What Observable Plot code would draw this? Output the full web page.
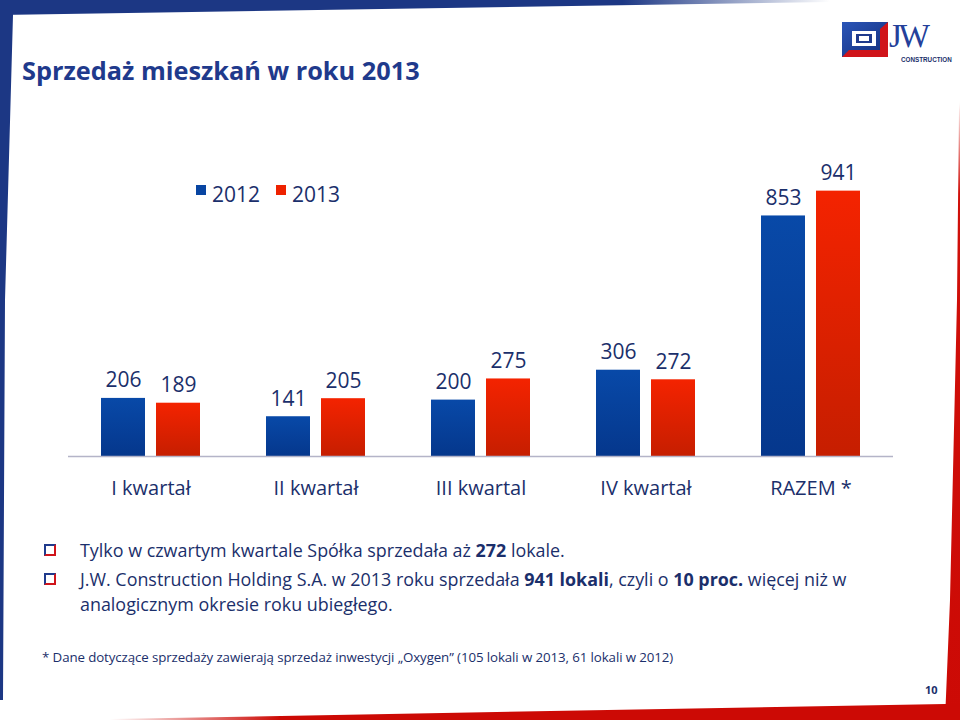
<!DOCTYPE html>
<html>
<head>
<meta charset="utf-8">
<script src="https://cdn.jsdelivr.net/npm/d3@7"></script>
<script src="https://cdn.jsdelivr.net/npm/@observablehq/plot@0.6"></script>
<style>
  html, body { margin: 0; padding: 0; background: #fff; }
  #slide { position: relative; width: 960px; height: 720px; overflow: hidden; background: #fff; font-family: "Open Sans", sans-serif; color: #1b2f6b; }
  .abs { position: absolute; }
  #title { left: 22px; top: 53px; font-size: 25.3px; font-weight: 700; color: #1f3a8c; white-space: nowrap; }
  #legend { left: 196px; top: 180px; display: flex; align-items: center; font-size: 21px; color: #1b2f6b; white-space: nowrap; }
  #legend .sw { width: 10px; height: 10px; margin-right: 6px; margin-top: -8px; }
  #legend .item { display: flex; align-items: center; margin-right: 16px; }
  #chart { left: 0; top: 140px; }
  .bullet { left: 80px; font-size: 17.9px; color: #1b2f6b; white-space: nowrap; line-height: 24.5px; }
  .box { width: 8px; height: 8px; border: 2px solid #1f3a8c; border-right-color: #d0141a; border-bottom-color: #d0141a; }
  #foot { left: 42px; top: 648px; font-size: 13.3px; color: #1b2f6b; white-space: nowrap; letter-spacing: -0.1px; }
  #page { left: 925px; top: 682px; font-size: 11px; font-weight: 700; color: #1b2f6b; }
</style>
</head>
<body>
<div id="slide">
  <svg class="abs" style="left:0;top:0" width="960" height="720">
    <defs>
      <linearGradient id="gBlue" x1="0" y1="0" x2="0" y2="1">
        <stop offset="0" stop-color="#0849a8"/>
        <stop offset="1" stop-color="#05378c"/>
      </linearGradient>
      <linearGradient id="gRed" x1="0" y1="0" x2="0" y2="1">
        <stop offset="0" stop-color="#f42300"/>
        <stop offset="1" stop-color="#c61e00"/>
      </linearGradient>
      <linearGradient id="topBand" x1="0" y1="0" x2="1" y2="0">
        <stop offset="0" stop-color="#1c3784"/>
        <stop offset="0.75" stop-color="#1c3784"/>
        <stop offset="1" stop-color="#1c3784" stop-opacity="0"/>
      </linearGradient>
      <linearGradient id="rightBand" x1="0" y1="0" x2="0" y2="1">
        <stop offset="0" stop-color="#d0100a" stop-opacity="0"/>
        <stop offset="0.15" stop-color="#d0100a"/>
        <stop offset="1" stop-color="#cc0a05"/>
      </linearGradient>
      <linearGradient id="botBand" x1="0" y1="0" x2="1" y2="0">
        <stop offset="0" stop-color="#cc0a05" stop-opacity="0"/>
        <stop offset="0.2" stop-color="#cc0a05"/>
        <stop offset="1" stop-color="#cc0a05"/>
      </linearGradient>
      <linearGradient id="logoBlue" x1="0" y1="0" x2="1" y2="1">
        <stop offset="0" stop-color="#2a55b8"/>
        <stop offset="1" stop-color="#142e7a"/>
      </linearGradient>
    </defs>
    <polygon points="0,0 830,0 830,2 0,15" fill="url(#topBand)"/>
    <polygon points="0,0 13,0 13,15 5,300 3,700 0,700" fill="#1c3784"/>
    <polygon points="960,100 960,720 945,720 950,600 957,300 959,110" fill="url(#rightBand)"/>
    <polygon points="110,720 110,719 945,704 960,703 960,720" fill="url(#botBand)"/>
    <!-- logo -->
    <g>
      <rect x="842" y="22" width="46" height="35" fill="url(#logoBlue)"/>
      <polygon points="842,57 888,57 888,22 880,29 880,50 849,50" fill="#d0141a"/>
      <rect x="852" y="31" width="24" height="15" fill="#fff"/>
      <rect x="856" y="34" width="16" height="9" fill="#1f3a8c"/>
      <rect x="859" y="36" width="10" height="5" fill="#fff"/>
      <text x="889" y="47" font-family="'Liberation Serif', 'DejaVu Serif', serif" font-size="33" fill="#24409a" letter-spacing="-3">JW</text>
      <text x="901" y="62" font-family="'Liberation Sans', sans-serif" font-size="6.3" font-weight="700" fill="#1b2f6b">CONSTRUCTION</text>
    </g>
  </svg>

  <div id="title" class="abs">Sprzedaż mieszkań w roku 2013</div>

  <div id="legend" class="abs"></div>
  <div id="chart" class="abs"></div>

  <div class="abs box" style="left:44px;top:544px"></div>
  <div class="abs box" style="left:44px;top:573px"></div>
  <div class="abs bullet" style="top:538px">Tylko w czwartym kwartale Spółka sprzedała aż <b>272</b> lokale.</div>
  <div class="abs bullet" style="top:567px">J.W. Construction Holding S.A. w 2013 roku sprzedała <b>941 lokali</b>, czyli o <b>10 proc.</b> więcej niż w<br>analogicznym okresie roku ubiegłego.</div>

  <div id="foot" class="abs">* Dane dotyczące sprzedaży zawierają sprzedaż inwestycji „Oxygen” (105 lokali w 2013, 61 lokali w 2012)</div>
  <div id="page" class="abs">10</div>
</div>

<script>
// ---- data ----
const quarters = ["I kwartał", "II kwartał", "III kwartal", "IV kwartał", "RAZEM *"];
const years = ["2012", "2013"];
const sales2012 = [206, 141, 200, 306, 853];
const sales2013 = [189, 205, 275, 272, 941];
const yearColors = ["#0845a2", "#ee2200"];
const yearFills = ["url(#gBlue)", "url(#gRed)"];

const rows = quarters.flatMap((q, i) => [
  {q, year: years[0], value: sales2012[i]},
  {q, year: years[1], value: sales2013[i]}
]);

// legend
const legend = document.getElementById("legend");
years.forEach((y, i) => {
  const item = document.createElement("div");
  item.className = "item";
  const sw = document.createElement("div");
  sw.className = "sw";
  sw.style.background = yearColors[i];
  const t = document.createElement("span");
  t.textContent = y;
  item.appendChild(sw);
  item.appendChild(t);
  legend.appendChild(item);
});

const chart = Plot.plot({
  width: 960,
  height: 370,
  marginTop: 34,
  marginBottom: 54,
  marginLeft: 66,
  marginRight: 66,
  style: {fontFamily: "'Open Sans', sans-serif", fontSize: "20px", color: "#1b2f6b", background: "transparent", overflow: "visible"},
  fx: {domain: quarters, padding: 0, label: null, axis: null},
  x: {domain: years, paddingInner: 0.2, paddingOuter: 0.58, axis: null},
  y: {domain: [0, 1000], axis: null},
  marks: [
    Plot.barY(rows.filter(d => d.year === years[0]), {fx: "q", x: "year", y: "value", fill: yearFills[0]}),
    Plot.barY(rows.filter(d => d.year === years[1]), {fx: "q", x: "year", y: "value", fill: yearFills[1]}),
    Plot.ruleY([0], {stroke: "#b4b4c8", strokeWidth: 1.5}),
    Plot.text(rows, {fx: "q", x: "year", y: "value", text: d => String(d.value), lineAnchor: "bottom", dy: -11, fontSize: 21, fill: "#1b2f6b"}),
    Plot.axisFx({anchor: "bottom", tickSize: 0, tickPadding: 24, label: null, fontSize: 20})
  ]
});
document.getElementById("chart").appendChild(chart);
</script>
</body>
</html>
